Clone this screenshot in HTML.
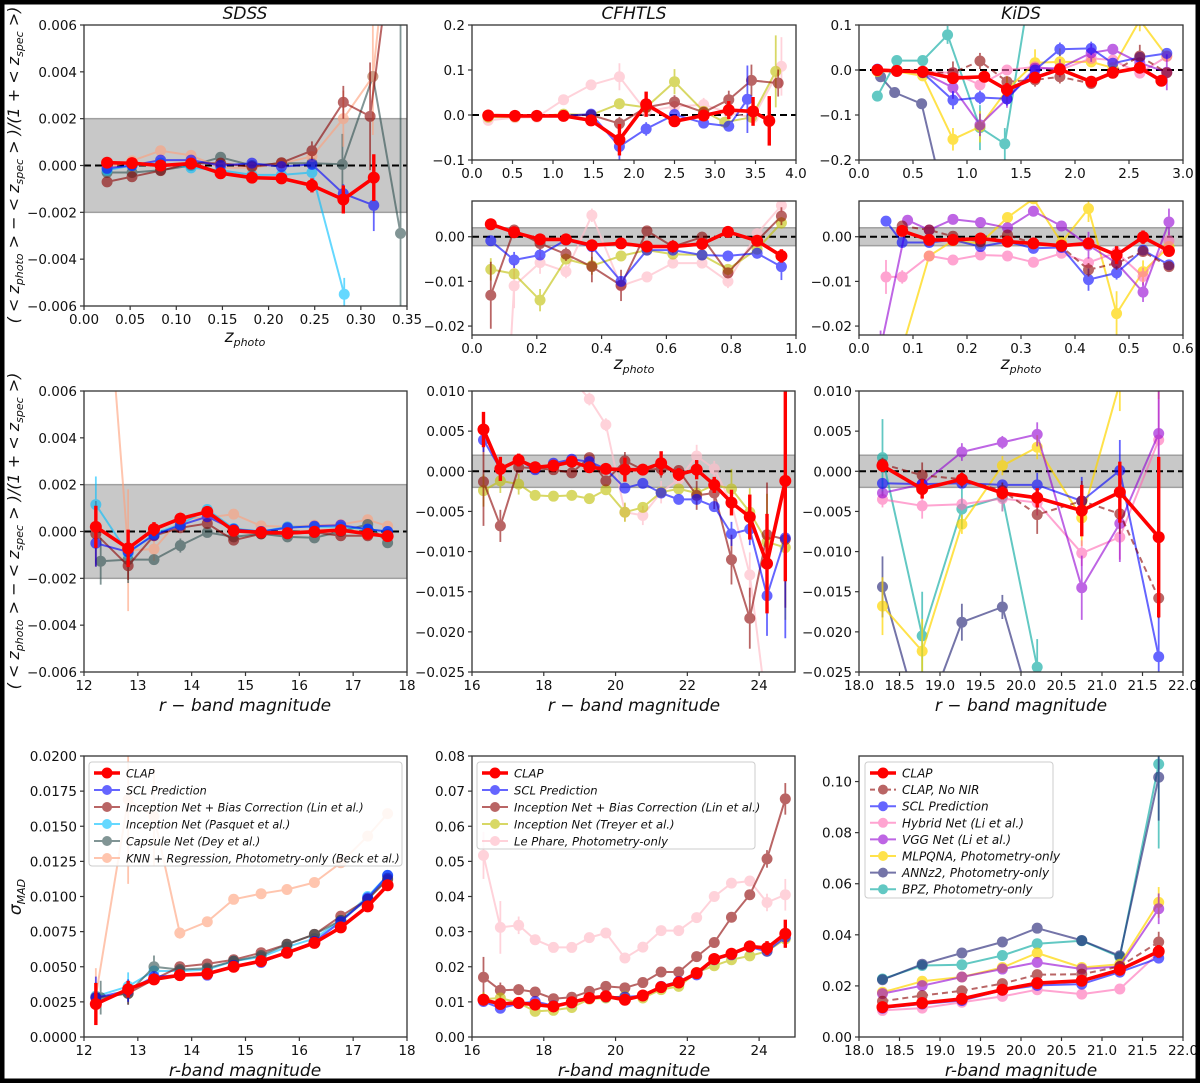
<!DOCTYPE html>
<html><head><meta charset="utf-8">
<style>
html,body{margin:0;padding:0;background:#fff;}
svg{display:block;}
text{font-family:"DejaVu Sans","Liberation Sans",sans-serif;}
</style></head>
<body>
<svg id="fig" xmlns="http://www.w3.org/2000/svg" width="1200" height="1083" viewBox="0 0 1200 1083">
<rect x="0" y="0" width="1200" height="1083" fill="#fff"/>
<g id="root"></g>
<rect x="2" y="2" width="1196" height="1079" fill="none" stroke="#000" stroke-width="5"/>
</svg>
<script>
// ---------- DATA ----------
// Row 1 SDSS (z_photo)
const sdssZ_x = [0.025,0.052,0.083,0.116,0.148,0.182,0.214,0.247,0.281,0.314];
const sdssZ_clap = [0.00012,0.0001,0,0.00008,-0.00033,-0.00052,-0.00055,-0.00085,-0.00145,-0.00052];
const sdssZ_clapErr = [0.0001,0.0001,0.0001,0.0001,0.0001,0.0001,0.0001,0.0003,0.0006,0.001];
const sdssZ_scl = [-0.00012,0,0.00023,0.00023,0,0.0001,-0.00005,0.00005,-0.0012,-0.0017];
const sdssZ_sclErr = [0,0,0,0,0,0,0,0,0.0004,0.0011];
const sdssZ_linX = [0.025,0.052,0.083,0.116,0.148,0.182,0.214,0.247,0.281,0.310,0.343];
const sdssZ_lin = [-0.0007,-0.00048,-0.00022,0.0001,0.0001,-0.00005,0.00012,0.00063,0.0027,0.0021,0.0122];
const sdssZ_linErr = [0,0,0,0,0,0,0,0.0004,0.0007,0.0023,0];
const sdssZ_pasX = [0.025,0.052,0.083,0.116,0.148,0.182,0.214,0.247,0.282];
const sdssZ_pas = [-0.0002,0,0.0001,-0.0001,-0.0002,-0.0004,-0.0004,-0.0003,-0.0055];
const sdssZ_pasErr = [0,0,0,0,0,0,0,0,0.0007];
const sdssZ_capX = [0.025,0.052,0.083,0.116,0.148,0.182,0.214,0.247,0.280,0.313,0.343];
const sdssZ_cap = [-0.0003,-0.0003,-0.0002,0,0.00035,0,0.0001,0.0001,0.00005,0.0038,-0.0029];
const sdssZ_capErr = [0,0,0,0,0,0,0,0,0.0013,0,0.0095];
const sdssZ_knnX = [0.025,0.052,0.083,0.116,0.148,0.182,0.214,0.247,0.281,0.313,0.335];
const sdssZ_knn = [-0.0001,0.0002,0.00063,0.00043,-0.0001,-0.0001,0.0001,0.00038,0.002,0.0038,0.012];
const sdssZ_knnErr = [0,0,0,0,0,0,0,0,0.0012,0.0025,0];

// Row 1 CFHTLS top (z_photo 0-4)
const cfT_x = [0.2,0.53,0.8,1.13,1.47,1.82,2.15,2.5,2.86,3.17,3.47,3.67];
const cfT_clap = [-0.001,-0.002,-0.002,-0.002,-0.012,-0.055,0.024,-0.014,-0.001,0.011,0.008,-0.013];
const cfT_clapErr = [0.002,0.002,0.002,0.002,0.005,0.035,0.028,0.012,0.01,0.02,0.032,0.055];
const cfT_sclX = [0.2,0.53,0.8,1.13,1.47,1.82,2.15,2.5,2.86,3.17,3.4];
const cfT_scl = [-0.001,-0.002,-0.002,-0.002,0.002,-0.07,-0.031,0.001,-0.018,-0.025,0.035];
const cfT_sclErr = [0,0,0,0,0,0.03,0.015,0.01,0.01,0.01,0.075];
const cfT_linX = [0.2,0.53,0.8,1.13,1.47,1.82,2.15,2.5,2.86,3.17,3.45,3.78];
const cfT_lin = [-0.002,-0.002,-0.002,-0.001,0,-0.019,0.017,0.029,0.006,0.034,0.077,0.071];
const cfT_linErr = [0,0,0,0,0,0.015,0.01,0.015,0.01,0.02,0.035,0.03];
const cfT_treX = [0.2,0.53,0.8,1.13,1.47,1.82,2.15,2.5,2.86,3.12,3.45,3.75];
const cfT_tre = [-0.005,-0.004,-0.003,0.002,0,0.025,0.017,0.074,0.008,-0.016,-0.005,0.097];
const cfT_treErr = [0,0,0,0,0,0.012,0.01,0.028,0.01,0.01,0.01,0.08];
const cfT_phaX = [0.2,0.53,0.8,1.13,1.47,1.82,2.15,2.5,2.86,3.17,3.47,3.82];
const cfT_pha = [-0.012,-0.006,-0.005,0.034,0.067,0.085,0.008,0.019,0.023,0.005,-0.006,0.108];
const cfT_phaErr = [0,0,0,0,0.01,0.03,0.01,0.01,0.015,0.01,0.01,0.065];

// Row 1 CFHTLS bottom (z_photo 0-1)
const cfB_x = [0.058,0.13,0.21,0.29,0.37,0.46,0.54,0.62,0.71,0.79,0.88,0.955];
const cfB_clap = [0.0028,0.001,-0.0006,-0.0006,-0.0019,-0.0015,-0.0022,-0.0022,-0.0016,0.0011,-0.0009,-0.0043];
const cfB_clapErr = [0.0004,0.0004,0.0006,0.0006,0.0009,0.0009,0.0007,0.0007,0.0007,0.0004,0.0009,0.0015];
const cfB_scl = [-0.0009,-0.0052,-0.0041,-0.0007,-0.0022,-0.01,-0.003,-0.003,-0.0041,-0.0043,-0.0037,-0.0067];
const cfB_sclErr = [0,0.0018,0,0,0,0.001,0,0,0,0.0012,0.0012,0.003];
const cfB_lin = [-0.0131,0.0015,-0.0015,-0.0039,-0.0067,-0.0109,0.0013,-0.0022,-0.0001,-0.0081,-0.0009,0.0046];
const cfB_linErr = [0.0075,0.0012,0.0015,0.0015,0.0035,0.0035,0,0.0015,0.0012,0.0012,0.0012,0.002];
const cfB_tre = [-0.0073,-0.0083,-0.0142,-0.005,-0.0065,-0.0043,-0.003,-0.0039,-0.0041,-0.0073,-0.0028,0.0031];
const cfB_treErr = [0.0025,0,0.0025,0.0012,0.002,0,0,0,0,0.0012,0,0.0013];
const cfB_phaX = [0.10,0.13,0.21,0.29,0.37,0.46,0.54,0.62,0.71,0.79,0.88,0.955];
const cfB_pha = [-0.05,-0.011,-0.0058,-0.0078,0.0048,-0.011,-0.009,-0.0059,-0.0059,-0.01,0.0007,0.007];
const cfB_phaErr = [0,0.005,0.0025,0.0015,0.0015,0.001,0.0012,0,0,0.0015,0,0.0015];

// Row 1 KiDS top (z_photo 0-3)
const kiT_x = [0.17,0.35,0.59,0.87,1.16,1.37,1.63,1.86,2.15,2.35,2.6,2.8];
const kiT_clap = [0,-0.002,-0.004,-0.018,-0.015,-0.044,-0.017,0.0015,-0.026,-0.006,0.005,-0.024];
const kiT_clapErr = [0.003,0.003,0.004,0.01,0.012,0.015,0.01,0.012,0.01,0.008,0.012,0.005];
const kiT_x2 = [0.17,0.35,0.59,0.87,1.12,1.37,1.63,1.86,2.15,2.35,2.6,2.85];
const kiT_scl = [0.002,-0.002,-0.006,-0.067,-0.061,-0.064,0,0.046,0.048,0.015,0.028,0.037];
const kiT_sclErr = [0,0,0,0.02,0.015,0.015,0.01,0.015,0.015,0,0.01,0.01];
const kiT_nonir = [-0.001,-0.002,-0.005,-0.006,0.02,-0.026,-0.022,-0.015,-0.03,-0.004,0.031,-0.006];
const kiT_nonirErr = [0,0,0,0.025,0.018,0.012,0.015,0.015,0.01,0,0.025,0.01];
const kiT_vgg = [0.0015,-0.003,-0.005,-0.039,-0.122,-0.064,0.004,0.004,0.038,0.046,0.016,-0.005];
const kiT_vggErr = [0,0,0,0.025,0.025,0.02,0,0.02,0.02,0.01,0.01,0.04];
const kiT_mlp = [-0.003,-0.003,-0.013,-0.154,-0.126,-0.044,0.016,0.018,0.018,0.005,0.111,0.031];
const kiT_mlpErr = [0,0,0,0.025,0.035,0.03,0.03,0.03,0.01,0,0.025,0.01];
const kiT_hyb = [0,-0.003,-0.005,-0.006,-0.033,0,0.007,0,0.026,0.022,-0.007,0.03];
const kiT_hybErr = [0,0,0,0,0.01,0,0,0,0,0,0.01,0];
const kiT_annX = [0.2,0.33,0.58,0.8,1.05];
const kiT_ann = [-0.015,-0.05,-0.075,-0.3,-0.35];
const kiT_annErr = [0,0,0,0.08,0.12];
const kiT_bpzX = [0.17,0.35,0.59,0.82,1.12,1.35,1.63];
const kiT_bpz = [-0.058,0.021,0.021,0.078,-0.128,-0.164,0.25];
const kiT_bpzErr = [0,0,0,0.02,0.05,0.035,0];

// Row 1 KiDS bottom (z_photo 0-0.6)
const kiB_x = [0.08,0.13,0.174,0.225,0.275,0.323,0.375,0.425,0.477,0.526,0.574];
const kiB_clap = [0.0013,-0.0007,-0.0007,-0.0004,-0.0011,-0.0015,-0.002,-0.0015,-0.0041,-0.0001,-0.0032];
const kiB_clapErr = [0.0007,0.0004,0.0004,0.0004,0.0004,0.0004,0.0006,0.0012,0.002,0.0015,0.0012];
const kiB_sclX = [0.05,0.08,0.13,0.174,0.225,0.275,0.323,0.375,0.425,0.477,0.526,0.574];
const kiB_scl = [0.0035,-0.0013,-0.0013,-0.0007,-0.0022,-0.0011,-0.0026,-0.0024,-0.0096,-0.0081,-0.003,-0.0063];
const kiB_sclErr = [0.0006,0,0,0,0,0,0,0,0.0025,0.0015,0.001,0.0008];
const kiB_nonir = [0.0024,0.0015,0.0001,-0.0011,0.0004,-0.0015,-0.0022,-0.0074,-0.0059,-0.0033,-0.0067];
const kiB_nonirErr = [0,0,0,0,0.001,0,0,0.0015,0.0015,0.0012,0.001];
const kiB_vggX = [0.04,0.09,0.13,0.174,0.225,0.275,0.323,0.375,0.425,0.477,0.526,0.574];
const kiB_vgg = [-0.025,0.0037,0.0015,0.0039,0.0032,0.002,0.0057,0.0024,-0.0019,-0.0059,-0.0124,0.0033];
const kiB_vggErr = [0.004,0,0,0,0,0.001,0,0.0008,0.003,0.001,0.0022,0.003];
const kiB_mlp = [-0.025,-0.0043,-0.0009,-0.0015,0.0043,0.0085,-0.0013,0.0063,-0.0172,-0.0078,-0.0022];
const kiB_mlpErr = [0.002,0,0,0,0,0,0,0.003,0.005,0.0025,0.001];
const kiB_hybX = [0.05,0.08,0.13,0.174,0.225,0.275,0.323,0.375,0.425,0.477,0.526,0.574];
const kiB_hyb = [-0.009,-0.009,-0.0043,-0.0052,-0.0041,-0.0043,-0.0057,-0.0037,-0.0058,-0.0035,-0.0089,-0.0009];
const kiB_hybErr = [0.0038,0.0015,0,0,0,0,0,0,0,0,0.002,0.002];

// Row 2 SDSS (magnitude)
const sdssM_x = [12.22,12.82,13.3,13.79,14.29,14.78,15.29,15.78,16.28,16.77,17.27,17.64];
const sdssM_clap = [0.0002,-0.00072,0.0001,0.00055,0.00084,0.00003,-0.00004,-0.00007,-0.00001,0.00006,-0.0001,-0.0002];
const sdssM_clapErr = [0.0009,0.0008,0.0003,0.0002,0.0002,0.0001,0.0001,0.0001,0.0001,0.0001,0.0001,0.0001];
const sdssM_scl = [-0.0005,-0.00087,-0.00016,0.00027,0.00063,0.0001,0,0.00016,0.00023,0.00027,0.0001,0];
const sdssM_sclErr = [0.001,0.0004,0,0,0,0,0,0,0,0,0,0];
const sdssM_lin = [-0.0001,-0.00146,-0.00018,0.00016,0.00034,-0.00037,-0.0001,-0.0001,-0.00004,-0.00018,-0.00018,-0.00013];
const sdssM_linErr = [0.0014,0.0006,0,0,0,0,0,0,0,0,0,0];
const sdssM_pas = [0.00115,-0.00094,-0.0001,0.0003,0.00094,0.00013,0,0.0002,0.0002,0.0002,0.0001,0];
const sdssM_pasErr = [0.0012,0.0004,0,0,0.0002,0,0,0,0,0,0,0];
const sdssM_capX = [12.31,12.82,13.3,13.79,14.29,14.78,15.29,15.78,16.28,16.77,17.27,17.64];
const sdssM_cap = [-0.00127,-0.0012,-0.0012,-0.0006,-0.00004,-0.00023,-0.0001,-0.00023,-0.00027,0,0.0003,-0.00048];
const sdssM_capErr = [0.001,0.001,0,0.0003,0.0002,0,0,0,0,0,0,0];
const sdssM_knn = [0.017,-0.0008,-0.00075,0.00055,0.0006,0.00074,0.00024,0.0002,0.00027,0.0003,0.0005,0.00023];
const sdssM_knnErr = [0,0.0026,0.0005,0.0003,0,0.0002,0,0,0,0,0,0];

// Row 2 CFHTLS (magnitude)
const cfM_x = [16.32,16.79,17.3,17.76,18.27,18.78,19.27,19.73,20.26,20.76,21.27,21.76,22.26,22.75,23.23,23.74,24.22,24.73];
const cfM_clap = [0.0052,0.0003,0.0014,0.0005,0.0007,0.0012,0.0005,0.0003,0.0002,0.0002,0.001,-0.0004,0.0002,-0.0017,-0.0039,-0.0057,-0.0115,-0.0012];
const cfM_clapErr = [0.0022,0.0015,0.0008,0.0006,0.0005,0.0005,0.0005,0.0004,0.0015,0.0006,0.0015,0.0008,0.0012,0.001,0.0016,0.0028,0.0062,0.0125];
const cfM_scl = [0.0039,0.0003,0.0014,0.0002,0.001,0.0015,0.0012,0.0003,-0.0021,-0.0015,-0.0027,-0.0035,-0.0035,-0.0044,-0.0078,-0.0072,-0.0155,-0.0083];
const cfM_sclErr = [0.0015,0,0,0.0005,0,0,0,0,0.0006,0,0,0,0,0.0006,0.0015,0.002,0.005,0.0125];
const cfM_lin = [-0.0013,-0.0068,0.0005,0.0004,0.0002,-0.0002,0.0017,-0.0012,0.0013,0.0002,0.0003,0.0001,-0.003,-0.0027,-0.011,-0.0183,-0.0079,-0.0085];
const cfM_linErr = [0.0055,0.002,0,0,0,0,0,0,0.0011,0,0.0011,0,0.0018,0.002,0.0031,0.0038,0.0065,0.0085];
const cfM_tre = [-0.0024,-0.0012,-0.0016,-0.003,-0.0031,-0.003,-0.0034,-0.0023,-0.0051,-0.0045,-0.0026,-0.0022,-0.0027,-0.0017,-0.0022,-0.0051,-0.0088,-0.0095];
const cfM_treErr = [0.002,0.0015,0.0013,0,0,0,0,0,0.0012,0,0,0,0,0,0.0025,0.003,0.006,0.009];
const cfM_phaX = [18.27,18.78,19.27,19.73,20.26,20.76,21.27,21.76,22.26,22.75,23.23,23.74,24.22,24.73];
const cfM_pha = [0.016,0.0115,0.009,0.0058,-0.0051,-0.0055,-0.0026,-0.001,0.0019,0.0003,-0.004,-0.0129,-0.03,-0.035];
const cfM_phaErr = [0,0,0.0008,0.0008,0.0011,0.0012,0.0014,0,0.0014,0.001,0,0.0028,0,0.004];

// Row 2 KiDS (magnitude)
const kiM_x = [18.29,18.78,19.27,19.77,20.2,20.75,21.22,21.7];
const kiM_clap = [0.0007,-0.0022,-0.001,-0.0027,-0.0033,-0.0049,-0.0026,-0.0082];
const kiM_clapErr = [0.0008,0.0012,0.0008,0.0008,0.0012,0.0032,0.0038,0.01];
const kiM_scl = [-0.0015,-0.0016,-0.0015,-0.0017,-0.0017,-0.0037,0.0001,-0.0231];
const kiM_sclErr = [0,0,0.0005,0,0.0015,0.003,0.0038,0.0065];
const kiM_nonir = [0.0009,-0.0005,-0.001,-0.0024,-0.0054,-0.0037,-0.0053,-0.0158];
const kiM_nonirErr = [0.0008,0.0016,0.001,0.001,0.0024,0.0025,0.0025,0.0025];
const kiM_vgg = [-0.0027,-0.0016,0.0024,0.0036,0.0046,-0.0145,-0.0065,0.0047];
const kiM_vggErr = [0,0,0.0011,0.0008,0.0015,0.004,0.0048,0.0065];
const kiM_mlp = [-0.0168,-0.0224,-0.0066,0.0007,0.003,-0.0058,0.011,0.015];
const kiM_mlpErr = [0.0036,0.004,0.0012,0.0012,0.0015,0.0035,0.0035,0.006];
const kiM_hyb = [-0.0035,-0.0043,-0.0041,-0.0034,-0.0039,-0.0102,-0.0082,0.0039];
const kiM_hybErr = [0.001,0.0016,0.0008,0.0016,0.0016,0.0016,0.0028,0.006];
const kiM_annX = [18.29,18.78,19.27,19.77,20.2];
const kiM_ann = [-0.0144,-0.032,-0.0188,-0.0169,-0.032];
const kiM_annErr = [0.0038,0,0.0023,0.0015,0];
const kiM_bpzX = [18.29,18.78,19.27,19.77,20.2];
const kiM_bpz = [0.0017,-0.0205,-0.0047,-0.0032,-0.0244];
const kiM_bpzErr = [0.0048,0.0055,0.0025,0.0018,0.0035];

// Row 3 SDSS sigma_MAD
const sdssS_x = [12.22,12.82,13.3,13.78,14.29,14.78,15.29,15.77,16.28,16.77,17.27,17.64];
const sdssS_clap = [0.00235,0.0034,0.0041,0.0044,0.0045,0.005,0.0054,0.006,0.0067,0.0078,0.0093,0.0108];
const sdssS_clapErr = [0.0015,0.0006,0.0002,0.0001,0.0001,0.0001,0.0001,0.0001,0.0001,0.0002,0.0002,0.0002];
const sdssS_scl = [0.0028,0.0033,0.0043,0.0044,0.0044,0.0051,0.0053,0.006,0.0068,0.0082,0.0099,0.0115];
const sdssS_sclErr = [0.0015,0.0008,0,0,0,0,0,0,0,0,0,0];
const sdssS_lin = [0.0028,0.0031,0.0041,0.005,0.0052,0.0055,0.006,0.0066,0.0073,0.0086,0.0098,0.0112];
const sdssS_linErr = [0.001,0.0008,0,0,0,0,0,0,0,0,0,0];
const sdssS_pas = [0.0029,0.0036,0.0047,0.0047,0.0048,0.0054,0.0057,0.0064,0.007,0.0083,0.01,0.0115];
const sdssS_pasErr = [0.001,0.001,0,0,0,0,0,0,0,0,0,0];
const sdssS_capX = [12.31,12.82,13.3,13.78,14.29,14.78,15.29,15.77,16.28,16.77,17.27,17.64];
const sdssS_cap = [0.0028,0.0031,0.005,0.0048,0.0049,0.0054,0.0058,0.0066,0.0073,0.0083,0.0098,0.0113];
const sdssS_capErr = [0.0012,0.0008,0.0008,0,0,0,0,0,0,0,0,0];
const sdssS_knn = [0.0029,0.0169,0.0157,0.0074,0.0082,0.0098,0.0102,0.0105,0.011,0.0124,0.0143,0.0159];
const sdssS_knnErr = [0.002,0.006,0.0035,0.0004,0,0,0,0,0,0,0,0];

// Row 3 CFHTLS sigma_MAD
const cfS_x = [16.32,16.79,17.3,17.76,18.27,18.78,19.27,19.73,20.26,20.76,21.27,21.76,22.26,22.75,23.23,23.74,24.22,24.73];
const cfS_clap = [0.0106,0.0094,0.0097,0.0092,0.0087,0.0099,0.0111,0.0116,0.0106,0.0118,0.0142,0.0155,0.0182,0.0222,0.0237,0.0258,0.0253,0.0294];
const cfS_clapErr = [0.0015,0.001,0.001,0.001,0.001,0.001,0.001,0.001,0.001,0.001,0.001,0.001,0.001,0.001,0.0012,0.0015,0.002,0.004];
const cfS_scl = [0.0101,0.0082,0.0095,0.0101,0.0089,0.0097,0.0111,0.0114,0.0114,0.0118,0.0144,0.0158,0.0177,0.022,0.0234,0.0256,0.0244,0.0284];
const cfS_sclErr = [0.0015,0.001,0,0,0,0,0,0,0,0,0,0,0,0,0,0,0.0015,0.003];
const cfS_lin = [0.017,0.0133,0.0135,0.0128,0.0109,0.0113,0.013,0.0144,0.014,0.0155,0.0185,0.0185,0.0229,0.0269,0.0341,0.0405,0.0507,0.0678];
const cfS_linErr = [0.0058,0.0022,0.0015,0,0,0,0,0,0,0,0,0,0,0,0,0,0.0025,0.0045];
const cfS_tre = [0.0108,0.0111,0.0097,0.0073,0.0076,0.0084,0.0108,0.0111,0.0116,0.0111,0.0135,0.0144,0.0184,0.0203,0.022,0.0231,0.0244,0.0279];
const cfS_treErr = [0.002,0,0,0,0,0,0,0,0,0,0,0,0,0,0,0,0,0.002];
const cfS_pha = [0.0517,0.0312,0.0318,0.0277,0.0255,0.0255,0.0283,0.0296,0.0225,0.0256,0.0303,0.0303,0.034,0.04,0.0438,0.0444,0.0383,0.0405];
const cfS_phaErr = [0.0067,0.0075,0.0025,0.0015,0,0,0,0,0,0,0,0,0,0,0,0.0015,0.0025,0.0045];

// Row 3 KiDS sigma_MAD
const kiS_x = [18.29,18.78,19.27,19.77,20.2,20.75,21.22,21.7];
const kiS_clap = [0.0117,0.0133,0.0149,0.0185,0.0211,0.022,0.0263,0.0335];
const kiS_clapErr = [0.001,0.001,0.001,0.001,0.001,0.001,0.0012,0.0025];
const kiS_scl = [0.0113,0.0129,0.0143,0.0183,0.0202,0.0207,0.0254,0.0309];
const kiS_nonir = [0.014,0.0162,0.0181,0.0209,0.0244,0.0246,0.0276,0.0372];
const kiS_nonirErr = [0,0,0,0,0,0,0,0.004];
const kiS_hyb = [0.0104,0.0113,0.0136,0.0159,0.0185,0.0168,0.0188,0.0329];
const kiS_vgg = [0.017,0.0201,0.0235,0.0266,0.0292,0.0266,0.0276,0.0502];
const kiS_vggErr = [0,0,0,0,0,0,0,0.006];
const kiS_mlp = [0.0175,0.0218,0.0235,0.0272,0.0329,0.0272,0.0285,0.0527];
const kiS_mlpErr = [0,0,0,0,0,0,0,0.006];
const kiS_ann = [0.0224,0.0285,0.0329,0.0372,0.0426,0.0378,0.0318,0.1017];
const kiS_annErr = [0,0,0,0,0,0,0,0.017];
const kiS_bpz = [0.0227,0.028,0.0283,0.0319,0.0365,0.0377,0.0313,0.1068];
const kiS_bpzErr = [0,0,0,0,0,0,0,0.033];

// Tick values
const ticksSdssZx = [0,0.05,0.1,0.15,0.2,0.25,0.3,0.35];
const ticksSdssY = [-0.006,-0.004,-0.002,0,0.002,0.004,0.006];
const ticksCfTx = [0,0.5,1,1.5,2,2.5,3,3.5,4];
const ticksCfTy = [-0.1,0,0.1,0.2];
const ticksBotZy = [-0.02,-0.01,0];
const ticksCfBx = [0,0.2,0.4,0.6,0.8,1];
const ticksKiTx = [0,0.5,1,1.5,2,2.5,3];
const ticksKiTy = [-0.2,-0.1,0,0.1];
const ticksKiBx = [0,0.1,0.2,0.3,0.4,0.5,0.6];
const ticksSdssMx = [12,13,14,15,16,17,18];
const ticksCfMx = [16,18,20,22,24];
const ticksMagY = [-0.025,-0.02,-0.015,-0.01,-0.005,0,0.005,0.01];
const ticksKiMx = [18,18.5,19,19.5,20,20.5,21,21.5,22];
const ticksSdssSy = [0,0.0025,0.005,0.0075,0.01,0.0125,0.015,0.0175,0.02];
const ticksCfSy = [0,0.01,0.02,0.03,0.04,0.05,0.06,0.07,0.08];
const ticksKiSy = [0,0.02,0.04,0.06,0.08,0.1];

// ---------- STYLES ----------
const ST = {
  clap:{c:'#ff0000',a:1,lw:3.6,r:6,elw:3.4},
  scl:{c:'#0000ff',a:0.6,lw:2,r:5.5,elw:1.8},
  lin:{c:'#8b0000',a:0.6,lw:2,r:5.5,elw:1.8},
  nonir:{c:'#8b0000',a:0.6,lw:2,r:5.5,elw:1.8,dash:'6,4'},
  pas:{c:'#00bfff',a:0.6,lw:2,r:5.5,elw:1.8},
  cap:{c:'#2f4f4f',a:0.6,lw:2,r:5.5,elw:1.8},
  knn:{c:'#ffa07a',a:0.6,lw:2,r:5.5,elw:1.8},
  tre:{c:'#bfbf00',a:0.6,lw:2,r:5.5,elw:1.8},
  pha:{c:'#ffc0cb',a:0.7,lw:2,r:5.5,elw:1.8},
  hyb:{c:'#ff69b4',a:0.6,lw:2,r:5.5,elw:1.8},
  vgg:{c:'#9400d3',a:0.6,lw:2,r:5.5,elw:1.8},
  mlp:{c:'#ffd700',a:0.7,lw:2,r:5.5,elw:1.8},
  ann:{c:'#191970',a:0.6,lw:2,r:5.5,elw:1.8},
  bpz:{c:'#20b2aa',a:0.7,lw:2,r:5.5,elw:1.8}
};

const NS='http://www.w3.org/2000/svg';
const root=document.getElementById('root');
function mk(tag,attrs,parent){const e=document.createElementNS(NS,tag);for(const k in attrs)e.setAttribute(k,attrs[k]);(parent||root).appendChild(e);return e;}
function fmt(v,d){let s=Math.abs(v).toFixed(d);return (v<-1e-12?'\u2212':'')+s;}

let clipId=0;
function panel(cfg){
  const g=mk('g',{});
  
  
  const L=cfg.box[0],T=cfg.box[1],R=cfg.box[2],B=cfg.box[3];
  const sx=v=>L+(v-cfg.xd[0])/(cfg.xd[1]-cfg.xd[0])*(R-L);
  const sy=v=>B-(v-cfg.yd[0])/(cfg.yd[1]-cfg.yd[0])*(B-T);
  const cid='c'+(clipId++);
  const cp=mk('clipPath',{id:cid},g);mk('rect',{x:L,y:T,width:R-L,height:B-T},cp);
  const plot=mk('g',{'clip-path':'url(#'+cid+')'},g);
  if(cfg.band){
    const b=mk('rect',{x:L,y:sy(0.002),width:R-L,height:sy(-0.002)-sy(0.002),fill:'#c8c8c8',stroke:'#a0a0a0','stroke-width':1.5},plot);
    
    
  }
  if(cfg.zero){
    const z=mk('line',{x1:L,x2:R,y1:sy(0),y2:sy(0),stroke:'#000','stroke-width':2,'stroke-dasharray':'7,4'},plot);
    
    
  }
  cfg.series.forEach(s=>{
    const st=ST[s.k];
    const sg=mk('g',{opacity:st.a},plot);
    
    
    const xs=s.x, ys=s.y;
    if(s.e){s.e.forEach((e,i)=>{if(e>0){const el=mk('line',{x1:sx(xs[i]),x2:sx(xs[i]),y1:sy(ys[i]-e),y2:sy(ys[i]+e),stroke:st.c,'stroke-width':st.elw},sg);
      
      }});}
    const pts=xs.map((x,i)=>sx(x).toFixed(1)+','+sy(ys[i]).toFixed(1)).join(' ');
    const pl=mk('polyline',{points:pts,fill:'none',stroke:st.c,'stroke-width':st.lw,'stroke-linejoin':'round'},sg);
    if(st.dash)pl.setAttribute('stroke-dasharray',st.dash);
    
    
    xs.forEach((x,i)=>{const c=mk('circle',{cx:sx(x),cy:sy(ys[i]),r:st.r,fill:st.c},sg);
      
      });
  });
  const fr=mk('rect',{x:L,y:T,width:R-L,height:B-T,fill:'none',stroke:'#333','stroke-width':1.3},g);
  
  
  cfg.xt.forEach(v=>{const x=sx(v);mk('line',{x1:x,x2:x,y1:B,y2:B+4,stroke:'#333','stroke-width':1.2},g);
    const t=mk('text',{x:x,y:B+18,'font-size':13.5,'text-anchor':'middle',fill:'#111'},g);t.textContent=fmt(v,cfg.xdig);
    
    });
  cfg.yt.forEach(v=>{const y=sy(v);mk('line',{x1:L-4,x2:L,y1:y,y2:y,stroke:'#333','stroke-width':1.2},g);
    const t=mk('text',{x:L-7,y:y+5,'font-size':13.5,'text-anchor':'end',fill:'#111'},g);t.textContent=fmt(v,cfg.ydig);
    
    });
  if(cfg.legend){
    const lg=cfg.legend;
    const lgG=mk('g',{},g);
    
    
    mk('rect',{x:lg.x,y:lg.y,width:lg.w,height:lg.h,fill:'#fff','fill-opacity':0.85,stroke:'#ccc','stroke-width':1,rx:3},lgG);
    lg.items.forEach((it,i)=>{
      const st=ST[it[0]];const yy=lg.y+11+i*lg.dy;
      const eg=mk('g',{},lgG);
      
      
      const hg=mk('g',{opacity:st.a},eg);
      const ln=mk('line',{x1:lg.x+5,x2:lg.x+31,y1:yy,y2:yy,stroke:st.c,'stroke-width':st.lw},hg);
      if(st.dash)ln.setAttribute('stroke-dasharray','5,3');
      mk('circle',{cx:lg.x+18,cy:yy,r:st.r-0.5,fill:st.c},hg);
      const t=mk('text',{x:lg.x+37,y:yy+4.5,'font-size':lg.fs||12.3,'font-style':'italic',fill:'#111'},eg);t.textContent=it[1];
    });
  }
}

// Panels
panel({name:'sdss-bias-vs-zphoto',box:[84,25,407,306],xd:[0,0.35],yd:[-0.006,0.006],xt:ticksSdssZx,xdig:2,yt:ticksSdssY,ydig:3,band:1,zero:1,
 series:[{k:'cap',x:sdssZ_capX,y:sdssZ_cap,e:sdssZ_capErr},{k:'knn',x:sdssZ_knnX,y:sdssZ_knn,e:sdssZ_knnErr},{k:'pas',x:sdssZ_pasX,y:sdssZ_pas,e:sdssZ_pasErr},{k:'lin',x:sdssZ_linX,y:sdssZ_lin,e:sdssZ_linErr},{k:'scl',x:sdssZ_x,y:sdssZ_scl,e:sdssZ_sclErr},{k:'clap',x:sdssZ_x,y:sdssZ_clap,e:sdssZ_clapErr}]});
panel({name:'cfhtls-bias-vs-zphoto-full',box:[472,25,796,160],xd:[0,4],yd:[-0.1,0.2],xt:ticksCfTx,xdig:1,yt:ticksCfTy,ydig:1,band:0,zero:1,
 series:[{k:'pha',x:cfT_phaX,y:cfT_pha,e:cfT_phaErr},{k:'tre',x:cfT_treX,y:cfT_tre,e:cfT_treErr},{k:'lin',x:cfT_linX,y:cfT_lin,e:cfT_linErr},{k:'scl',x:cfT_sclX,y:cfT_scl,e:cfT_sclErr},{k:'clap',x:cfT_x,y:cfT_clap,e:cfT_clapErr}]});
panel({name:'cfhtls-bias-vs-zphoto-low',box:[472,201,796,335],xd:[0,1],yd:[-0.022,0.008],xt:ticksCfBx,xdig:1,yt:ticksBotZy,ydig:2,band:1,zero:1,
 series:[{k:'pha',x:cfB_phaX,y:cfB_pha,e:cfB_phaErr},{k:'tre',x:cfB_x,y:cfB_tre,e:cfB_treErr},{k:'lin',x:cfB_x,y:cfB_lin,e:cfB_linErr},{k:'scl',x:cfB_x,y:cfB_scl,e:cfB_sclErr},{k:'clap',x:cfB_x,y:cfB_clap,e:cfB_clapErr}]});
panel({name:'kids-bias-vs-zphoto-full',box:[859,25,1183,160],xd:[0,3],yd:[-0.2,0.1],xt:ticksKiTx,xdig:1,yt:ticksKiTy,ydig:1,band:0,zero:1,
 series:[{k:'ann',x:kiT_annX,y:kiT_ann,e:kiT_annErr},{k:'bpz',x:kiT_bpzX,y:kiT_bpz,e:kiT_bpzErr},{k:'mlp',x:kiT_x2,y:kiT_mlp,e:kiT_mlpErr},{k:'hyb',x:kiT_x2,y:kiT_hyb,e:kiT_hybErr},{k:'vgg',x:kiT_x2,y:kiT_vgg,e:kiT_vggErr},{k:'scl',x:kiT_x2,y:kiT_scl,e:kiT_sclErr},{k:'nonir',x:kiT_x2,y:kiT_nonir,e:kiT_nonirErr},{k:'clap',x:kiT_x,y:kiT_clap,e:kiT_clapErr}]});
panel({name:'kids-bias-vs-zphoto-low',box:[859,201,1183,335],xd:[0,0.6],yd:[-0.022,0.008],xt:ticksKiBx,xdig:1,yt:ticksBotZy,ydig:2,band:1,zero:1,
 series:[{k:'mlp',x:kiB_x,y:kiB_mlp,e:kiB_mlpErr},{k:'hyb',x:kiB_hybX,y:kiB_hyb,e:kiB_hybErr},{k:'vgg',x:kiB_vggX,y:kiB_vgg,e:kiB_vggErr},{k:'scl',x:kiB_sclX,y:kiB_scl,e:kiB_sclErr},{k:'nonir',x:kiB_x,y:kiB_nonir,e:kiB_nonirErr},{k:'clap',x:kiB_x,y:kiB_clap,e:kiB_clapErr}]});
panel({name:'sdss-bias-vs-magnitude',box:[84,391,407,672],xd:[12,18],yd:[-0.006,0.006],xt:ticksSdssMx,xdig:0,yt:ticksSdssY,ydig:3,band:1,zero:1,
 series:[{k:'knn',x:sdssM_x,y:sdssM_knn,e:sdssM_knnErr},{k:'cap',x:sdssM_capX,y:sdssM_cap,e:sdssM_capErr},{k:'lin',x:sdssM_x,y:sdssM_lin,e:sdssM_linErr},{k:'pas',x:sdssM_x,y:sdssM_pas,e:sdssM_pasErr},{k:'scl',x:sdssM_x,y:sdssM_scl,e:sdssM_sclErr},{k:'clap',x:sdssM_x,y:sdssM_clap,e:sdssM_clapErr}]});
panel({name:'cfhtls-bias-vs-magnitude',box:[472,391,795,672],xd:[16,25],yd:[-0.025,0.01],xt:ticksCfMx,xdig:0,yt:ticksMagY,ydig:3,band:1,zero:1,
 series:[{k:'pha',x:cfM_phaX,y:cfM_pha,e:cfM_phaErr},{k:'tre',x:cfM_x,y:cfM_tre,e:cfM_treErr},{k:'lin',x:cfM_x,y:cfM_lin,e:cfM_linErr},{k:'scl',x:cfM_x,y:cfM_scl,e:cfM_sclErr},{k:'clap',x:cfM_x,y:cfM_clap,e:cfM_clapErr}]});
panel({name:'kids-bias-vs-magnitude',box:[859,391,1183,672],xd:[18,22],yd:[-0.025,0.01],xt:ticksKiMx,xdig:1,yt:ticksMagY,ydig:3,band:1,zero:1,
 series:[{k:'ann',x:kiM_annX,y:kiM_ann,e:kiM_annErr},{k:'bpz',x:kiM_bpzX,y:kiM_bpz,e:kiM_bpzErr},{k:'mlp',x:kiM_x,y:kiM_mlp,e:kiM_mlpErr},{k:'hyb',x:kiM_x,y:kiM_hyb,e:kiM_hybErr},{k:'vgg',x:kiM_x,y:kiM_vgg,e:kiM_vggErr},{k:'scl',x:kiM_x,y:kiM_scl,e:kiM_sclErr},{k:'nonir',x:kiM_x,y:kiM_nonir,e:kiM_nonirErr},{k:'clap',x:kiM_x,y:kiM_clap,e:kiM_clapErr}]});
panel({name:'sdss-sigma-mad',box:[84,756,407,1037],xd:[12,18],yd:[0,0.02],xt:ticksSdssMx,xdig:0,yt:ticksSdssSy,ydig:4,band:0,zero:0,
 series:[{k:'knn',x:sdssS_x,y:sdssS_knn,e:sdssS_knnErr},{k:'pas',x:sdssS_x,y:sdssS_pas,e:sdssS_pasErr},{k:'lin',x:sdssS_x,y:sdssS_lin,e:sdssS_linErr},{k:'cap',x:sdssS_capX,y:sdssS_cap,e:sdssS_capErr},{k:'scl',x:sdssS_x,y:sdssS_scl,e:sdssS_sclErr},{k:'clap',x:sdssS_x,y:sdssS_clap,e:sdssS_clapErr}],
 legend:{x:89,y:762,w:313,h:104,dy:17,fs:11.2,items:[['clap','CLAP'],['scl','SCL Prediction'],['lin','Inception Net + Bias Correction (Lin et al.)'],['pas','Inception Net (Pasquet et al.)'],['cap','Capsule Net (Dey et al.)'],['knn','KNN + Regression,  Photometry-only (Beck et al.)']]}});
panel({name:'cfhtls-sigma-mad',box:[472,756,795,1037],xd:[16,25],yd:[0,0.08],xt:ticksCfMx,xdig:0,yt:ticksCfSy,ydig:2,band:0,zero:0,
 series:[{k:'pha',x:cfS_x,y:cfS_pha,e:cfS_phaErr},{k:'lin',x:cfS_x,y:cfS_lin,e:cfS_linErr},{k:'tre',x:cfS_x,y:cfS_tre,e:cfS_treErr},{k:'scl',x:cfS_x,y:cfS_scl,e:cfS_sclErr},{k:'clap',x:cfS_x,y:cfS_clap,e:cfS_clapErr}],
 legend:{x:477,y:762,w:278,h:87,dy:17,fs:11.6,items:[['clap','CLAP'],['scl','SCL Prediction'],['lin','Inception Net + Bias Correction (Lin et al.)'],['tre','Inception Net (Treyer et al.)'],['pha','Le Phare,  Photometry-only']]}});
panel({name:'kids-sigma-mad',box:[859,756,1183,1037],xd:[18,22],yd:[0,0.11],xt:ticksKiMx,xdig:1,yt:ticksKiSy,ydig:2,band:0,zero:0,
 series:[{k:'bpz',x:kiS_x,y:kiS_bpz,e:kiS_bpzErr},{k:'ann',x:kiS_x,y:kiS_ann,e:kiS_annErr},{k:'mlp',x:kiS_x,y:kiS_mlp,e:kiS_mlpErr},{k:'vgg',x:kiS_x,y:kiS_vgg,e:kiS_vggErr},{k:'hyb',x:kiS_x,y:kiS_hyb},{k:'scl',x:kiS_x,y:kiS_scl},{k:'nonir',x:kiS_x,y:kiS_nonir,e:kiS_nonirErr},{k:'clap',x:kiS_x,y:kiS_clap,e:kiS_clapErr}],
 legend:{x:865,y:762,w:188,h:136,dy:16.6,fs:12,items:[['clap','CLAP'],['nonir','CLAP,  No NIR'],['scl','SCL Prediction'],['hyb','Hybrid Net (Li et al.)'],['vgg','VGG Net (Li et al.)'],['mlp','MLPQNA,  Photometry-only'],['ann','ANNz2,  Photometry-only'],['bpz','BPZ,  Photometry-only']]}});

// Titles & axis labels
function txt(name,x,y,size,content,opts){const t=mk('text',Object.assign({x:x,y:y,'font-size':size,'text-anchor':'middle','font-style':'italic',fill:'#111'},opts||{}));
  
  
  t.innerHTML=content;return t;}
txt('title-sdss',245,19,17,'SDSS');
txt('title-cfhtls',634,19,17,'CFHTLS');
txt('title-kids',1021,19,17,'KiDS');
const zph='z<tspan font-size="11" dy="4">photo</tspan>';
txt('x-axis-title-sdss-z',245,342,17,zph);
txt('x-axis-title-cfhtls-z',634,369,17,zph);
txt('x-axis-title-kids-z',1021,369,17,zph);
txt('x-axis-title-sdss-mag',245,711,17,'r \u2212 band  magnitude');
txt('x-axis-title-cfhtls-mag',634,711,17,'r \u2212 band  magnitude');
txt('x-axis-title-kids-mag',1021,711,17,'r \u2212 band  magnitude');
txt('x-axis-title-sdss-sigma',245,1076,17,'r-band  magnitude');
txt('x-axis-title-cfhtls-sigma',634,1076,17,'r-band  magnitude');
txt('x-axis-title-kids-sigma',1021,1076,17,'r-band  magnitude');
const ylab='( &lt; z<tspan font-size="11" dy="4">photo</tspan><tspan dy="-4"> &gt; \u2212 &lt; z</tspan><tspan font-size="11" dy="4">spec</tspan><tspan dy="-4"> &gt; )/(1 + &lt; z</tspan><tspan font-size="11" dy="4">spec</tspan><tspan dy="-4"> &gt;)</tspan>';
txt('y-axis-title-row1',0,0,16,ylab,{transform:'translate(19,165) rotate(-90)'});
txt('y-axis-title-row2',0,0,16,ylab,{transform:'translate(19,531) rotate(-90)'});
txt('y-axis-title-row3',0,0,17,'\u03c3<tspan font-size="11" dy="4">MAD</tspan>',{transform:'translate(21,897) rotate(-90)'});
</script>
</body></html>
